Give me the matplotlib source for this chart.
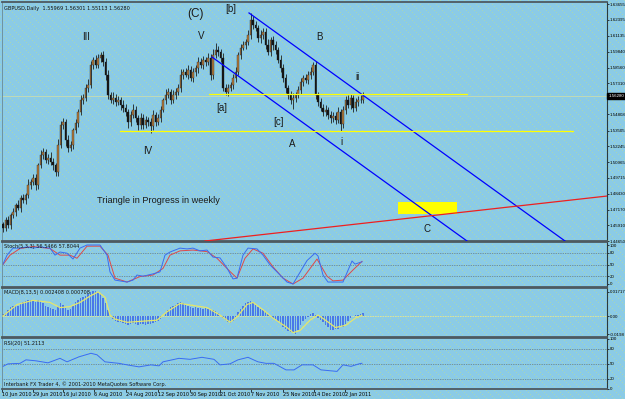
import matplotlib
matplotlib.use('Agg')
import matplotlib.pyplot as plt
from matplotlib.patches import Rectangle
import numpy as np

# ---------------- data ----------------
closes = [
    1.4569, 1.4633, 1.4593, 1.4674, 1.4698, 1.4754, 1.4730, 1.4810, 1.4794, 1.4834,
    1.4914, 1.4939, 1.4971, 1.4914, 1.5075, 1.5155, 1.5179, 1.5115, 1.5131, 1.5099,
    1.5075, 1.5019, 1.5236, 1.5396, 1.5420, 1.5276, 1.5212, 1.5236, 1.5356, 1.5412,
    1.5501, 1.5597, 1.5613, 1.5693, 1.5717, 1.5878, 1.5918, 1.5878, 1.5934, 1.5958,
    1.5902, 1.5798, 1.5637, 1.5597, 1.5613, 1.5581, 1.5597, 1.5557, 1.5533, 1.5501,
    1.5420, 1.5477, 1.5517, 1.5452, 1.5396, 1.5452, 1.5396, 1.5436, 1.5420, 1.5388,
    1.5477, 1.5420, 1.5452, 1.5517, 1.5597, 1.5637, 1.5661, 1.5597, 1.5637, 1.5661,
    1.5693, 1.5798, 1.5822, 1.5798, 1.5838, 1.5774, 1.5822, 1.5854, 1.5902, 1.5878,
    1.5918, 1.5902, 1.5934, 1.5798, 1.5958, 1.5998, 1.5982, 1.5934, 1.5693, 1.5661,
    1.5693, 1.5717, 1.5774, 1.5822, 1.5958, 1.6015, 1.6039, 1.6063, 1.6119, 1.6239,
    1.6199, 1.6175, 1.6095, 1.6119, 1.6143, 1.6039, 1.5982, 1.6079, 1.6039, 1.5998,
    1.5918, 1.5854, 1.5774, 1.5693, 1.5637, 1.5597, 1.5613, 1.5637, 1.5677, 1.5742,
    1.5774, 1.5758, 1.5798, 1.5822, 1.5878, 1.5637, 1.5581, 1.5533, 1.5501, 1.5517,
    1.5477, 1.5452, 1.5469, 1.5436, 1.5501, 1.5404, 1.5517, 1.5597, 1.5557, 1.5613,
    1.5533, 1.5581, 1.5597, 1.5597, 1.5628]
first_open = 1.4600
up_wick_pips = [
    20, 25, 30, 15, 35, 20, 40, 25, 30, 20, 45, 25, 30, 35, 20, 40, 30, 25, 35, 50,
    30, 20, 45, 30, 35, 25, 40, 30, 20, 35, 25, 40, 30, 35, 45, 30, 25, 40, 30, 24,
    35, 30, 40, 25, 50, 30, 35, 25, 40, 30, 20, 35, 45, 30, 25, 40, 30, 35, 25, 30,
    40, 25, 30, 35, 20, 45, 30, 25, 40, 35, 30, 45, 25, 30, 40, 35, 30, 25, 40, 30,
    35, 25, 40, 30, 45, 55, 30, 25, 40, 30, 35, 25, 30, 40, 25, 30, 35, 25, 40, 57,
    30, 35, 25, 40, 30, 35, 45, 25, 30, 35, 25, 40, 30, 35, 25, 30, 40, 25, 30, 35,
    25, 30, 35, 40, 24, 30, 25, 35, 30, 40, 25, 30, 35, 30, 40, 25, 30, 35, 40, 30,
    25, 35, 30, 40, 30]
down_wick_pips = [
    30, 25, 20, 35, 25, 30, 20, 35, 25, 30, 20, 35, 25, 40, 30, 25, 35, 20, 30, 25,
    40, 30, 35, 25, 30, 45, 35, 25, 30, 20, 35, 25, 30, 20, 35, 25, 30, 20, 25, 30,
    35, 40, 30, 25, 35, 30, 25, 40, 30, 35, 45, 30, 25, 35, 40, 30, 35, 25, 30, 56,
    30, 35, 25, 30, 20, 35, 25, 30, 20, 35, 25, 30, 35, 20, 30, 25, 35, 30, 40, 25,
    30, 35, 25, 40, 30, 25, 35, 30, 25, 20, 30, 25, 35, 30, 25, 30, 20, 35, 25, 30,
    35, 25, 30, 40, 35, 30, 25, 35, 40, 30, 25, 35, 30, 40, 30, 35, 72, 30, 25, 35,
    30, 25, 35, 30, 25, 30, 35, 25, 30, 35, 30, 40, 35, 30, 25, 56, 30, 35, 25, 30,
    35, 25, 30, 25, 20]

price_ticks = [1.63655, 1.62395, 1.61135, 1.59840, 1.58560, 1.57310, 1.54808,
               1.53505, 1.52245, 1.50965, 1.49715, 1.48430, 1.47170, 1.45910, 1.44650]
last_price = 1.56280

date_bars = [-0.4, 12, 24, 36.4, 49.2, 62, 74.8, 86.8, 99.2, 112, 124.4, 136.8]
date_labels = ['10 Jun 2010', '29 Jun 2010', '16 Jul 2010', '6 Aug 2010', '24 Aug 2010',
               '12 Sep 2010', '30 Sep 2010', '21 Oct 2010', '7 Nov 2010', '25 Nov 2010',
               '14 Dec 2010', '2 Jan 2011']

# drawn objects (bar index, price)
upper_channel_bars = [98.4, 224.8]
upper_channel_prices = [1.6296, 1.4465]
lower_channel_bars = [83.6, 185.6]
lower_channel_prices = [1.5942, 1.4465]
red_line_bars = [80.8, 241.6]
red_line_prices = [1.4465, 1.4826]
yellow_upper_bars = [82.4, 185.6]
yellow_upper_price = 1.5649
yellow_lower_bars = [46.8, 228.0]
yellow_lower_price = 1.5348
target_box_bars = [158.0, 181.6]
target_box_prices = [1.4682, 1.4778]

wave_labels = ['(C)', '[b]', 'III', 'V', 'B', 'ii', '[a]', '[c]', 'IV', 'A', 'i', 'C']
wave_bars = [77.2, 91.0, 33.2, 79.2, 126.4, 141.6, 87.6, 110.0, 58.0, 115.6, 135.2, 169.6]
wave_prices = [1.6290, 1.6328, 1.6103, 1.6111, 1.6103, 1.5782, 1.5533, 1.5420, 1.5188,
               1.5244, 1.5260, 1.4561]
wave_sizes = [8.5, 7, 7, 7, 7, 7, 7, 7, 7, 7, 7, 7]
note_text = 'Triangle in Progress in weekly'
note_bar, note_price = 62.0, 1.4794

# Stochastic
stoch_k_bars = [0, 1.6, 4, 6.8, 9.6, 12, 14.8, 18.8, 20.8, 22.8, 25.6, 28, 30.8, 33.6, 38.8,
                41.6, 42.8, 44.8, 49.6, 52, 53.6, 56, 60, 62.8, 64.8, 66.8, 70.8, 73.6, 76,
                78.8, 81.6, 84, 86.8, 89.6, 92, 93.6, 96, 98, 101.6, 104, 106.8, 109.6,
                113.6, 116, 118.8, 121.6, 124.8, 126, 128, 130, 136, 139.6, 140.8, 143.6]
stoch_k = [51, 74, 92, 92, 95, 92, 95, 92, 74, 82, 79, 64, 92, 100, 100, 74, 31, 10, 5, 10,
           23, 20, 26, 31, 74, 82, 92, 90, 92, 85, 87, 69, 67, 41, 13, 15, 74, 92, 90, 74,
           49, 31, 5, 0, 30, 60, 79, 72, 23, 5, 5, 59, 51, 57]
stoch_d_bars = [0, 2.8, 6.8, 12, 18.8, 22.8, 26.8, 29.6, 33.6, 38.8, 42, 44.8, 49.6, 54.8,
                60, 64, 66.8, 70.8, 76, 81.6, 85.6, 90.8, 93.6, 96.8, 100, 104, 108, 112,
                116, 120, 125.6, 129.6, 132, 136, 140, 143.6]
stoch_d = [50, 74, 91, 96, 91, 74, 74, 66, 97, 97, 74, 15, 5, 19, 23, 40, 74, 85, 87, 83,
           66, 32, 15, 66, 90, 79, 44, 15, 0, 15, 64, 20, 8, 10, 36, 58]
stoch_levels = [80, 50, 20]

# MACD (values in 1e-3)
macd_hist_e3 = [
    1.1, 2.2, 4.5, 6.7, 7.5, 8.2, 7.5, 9.0, 9.7, 10.4, 11.2, 11.2, 10.4, 9.7, 11.2, 10.4,
    9.0, 7.5, 6.7, 6.0, 5.2, 4.5, 7.5, 9.0, 8.2, 6.0, 4.5, 5.2, 7.5, 9.7, 11.2, 12.7, 13.4,
    14.2, 15.7, 17.2, 17.9, 17.9, 17.2, 15.7, 12.7, 9.0, 4.5, 0.7, -2.2, -3.7, -4.5, -4.5,
    -5.2, -6.0, -6.7, -6.0, -5.2, -6.0, -6.7, -6.0, -6.0, -6.7, -6.0, -6.0, -5.2, -4.5,
    -3.7, -2.2, 0.0, 2.2, 4.5, 6.7, 7.5, 8.2, 9.0, 9.7, 9.0, 8.2, 7.5, 6.7, 6.0, 6.7, 6.0,
    6.0, 5.2, 6.0, 5.2, 4.5, 4.5, 3.7, 2.2, 0.7, -1.5, -3.0, -4.5, -5.2, -3.7, -0.7, 3.0,
    5.2, 7.5, 9.0, 9.7, 10.4, 9.7, 8.2, 6.7, 5.2, 4.5, 3.0, 1.5, 0.0, -1.5, -2.2, -3.7,
    -6.0, -7.5, -9.0, -10.4, -11.2, -11.9, -12.7, -9.7, -6.7, -3.7, -2.2, -0.7, 1.5, 2.2,
    0.7, -1.5, -3.0, -4.5, -6.7, -8.2, -9.7, -9.7, -9.0, -9.0, -8.2, -7.5, -6.0, -3.7,
    -1.5, 0.0, 0.7, 0.7, 1.5, 2.2]
macd_sig_bars = [0, 5.6, 12, 18.8, 22.8, 26.8, 30.8, 34.8, 38, 40.8, 42.8, 44.8, 49.6, 56,
                 61.6, 65.6, 70.8, 76, 81.6, 86.8, 90.8, 93.6, 97.6, 100, 104, 108, 113.6,
                 116, 118.8, 122.8, 126, 129, 133, 137, 141, 143.6]
macd_sig_e3 = [0, 8.2, 11.2, 9.7, 6.0, 6.7, 9.7, 14.2, 17.2, 13.4, 0.7, -2.2, -4.5, -3.7,
               -3.0, 3.0, 9.0, 7.5, 6.0, 0.7, -4.5, -0.7, 8.2, 9.7, 4.5, -1.5, -8.2, -11.9,
               -10.4, -3.0, 0.7, -3.0, -8.2, -6.7, -1.5, 0.5]

# RSI
rsi_bars = [0, 2, 6.8, 9.2, 13.2, 18, 22.8, 25.6, 30.4, 35.2, 37.6, 40.8, 46.4, 49.6, 54.4,
            59.2, 62.4, 64, 70.4, 74.8, 79.6, 84.4, 86.8, 90.8, 94, 98, 102, 105.2, 108.4,
            113.2, 116.4, 119.6, 124, 127.2, 133.6, 136, 139.2, 142.4, 143.6]
rsi_vals = [45, 50, 51, 58, 56, 52, 61, 54, 64, 71, 68, 54, 51, 48, 44, 48, 46, 54, 61, 59,
            63, 59, 48, 50, 58, 63, 54, 51, 51, 38, 38, 48, 48, 38, 35, 48, 45, 50, 51.2]
rsi_levels = [80, 50, 20]

# ---------------- figure ----------------
BG = '#8bcbe6'
fig = plt.figure(figsize=(6.25, 3.99), dpi=100, facecolor=BG)
H, W = 399, 625
yy, xx = np.mgrid[0:H, 0:W]
dots = ((xx + 3 * yy) % 8 == 0) & (yy % 2 == 0)
img = np.zeros((H, W, 4))
img[dots] = [0.74, 0.88, 0.58, 0.6]
fig.figimage(img, 0, 0, zorder=-1)

L, Wd = 2 / 625, 605 / 625
def fr(top, bot):
    return [L, (399 - bot) / 399, Wd, (bot - top) / 399]

ax = fig.add_axes(fr(2, 241))
ax_st = fig.add_axes(fr(242, 287))
ax_md = fig.add_axes(fr(288, 337))
ax_rs = fig.add_axes(fr(338, 389))

TICK_FS = 3.2
LAB_FS = 3.6
TFONT = 'Liberation Sans'
for a in (ax, ax_st, ax_md, ax_rs):
    a.set_facecolor('none')
    a.set_xlim(-0.4, 241.6)
    a.yaxis.tick_right()
    a.tick_params(axis='y', length=1.5, width=0.5, pad=0.6, labelsize=TICK_FS, colors='black')
    a.tick_params(axis='x', bottom=False, labelbottom=False)
    for s in ('top', 'bottom'):
        a.spines[s].set_color('#4d5a60')
        a.spines[s].set_linewidth(1.3)
    a.spines['right'].set_color('#2a3a40')
    a.spines['right'].set_linewidth(0.8)
    a.spines['left'].set_color('#6a8a96')
    a.spines['left'].set_linewidth(0.6)

# ---- main price panel ----
ax.set_ylim(1.4465, 1.6384)
n = len(closes)
opens = [first_open] + closes[:-1]
xs = np.arange(n)
o = np.array(opens); c = np.array(closes)
hi = np.maximum(o, c) + np.array(up_wick_pips) * 1e-4
lo = np.minimum(o, c) - np.array(down_wick_pips) * 1e-4
ax.vlines(xs, lo, hi, color='#111111', lw=0.55, zorder=3)
bull = c >= o
body_h = np.maximum(np.abs(c - o), 0.0003)
ax.bar(xs[bull], body_h[bull], bottom=np.minimum(o, c)[bull], width=0.75,
       color='#b27a3c', edgecolor='#222222', linewidth=0.25, zorder=4)
ax.bar(xs[~bull], body_h[~bull], bottom=np.minimum(o, c)[~bull], width=0.75,
       color='#151515', edgecolor='#151515', linewidth=0.25, zorder=4)

ax.axhline(last_price, color='#c9dcb0', lw=0.6, zorder=1)
ax.plot(upper_channel_bars, upper_channel_prices, color='#0000ff', lw=0.9, zorder=5)
ax.plot(lower_channel_bars, lower_channel_prices, color='#0000ff', lw=0.9, zorder=5)
ax.plot(red_line_bars, red_line_prices, color='#ee2020', lw=0.9, zorder=5)
ax.plot(yellow_upper_bars, [yellow_upper_price] * 2, color='#ffff00', lw=0.9, zorder=5)
ax.plot(yellow_lower_bars, [yellow_lower_price] * 2, color='#ffff00', lw=0.9, zorder=5)
ax.add_patch(Rectangle((target_box_bars[0], target_box_prices[0]),
                       target_box_bars[1] - target_box_bars[0],
                       target_box_prices[1] - target_box_prices[0],
                       facecolor='#ffff00', edgecolor='none', zorder=4))

for lab, b, p, s in zip(wave_labels, wave_bars, wave_prices, wave_sizes):
    ax.text(b, p, lab, fontsize=s, ha='center', va='center', color='#1a1a1a',
            family='Liberation Sans', zorder=6)
ax.text(note_bar, note_price, note_text, fontsize=6.6, ha='center', va='center',
        color='#1a1a1a', family='Liberation Sans', zorder=6)

ax.set_yticks(price_ticks)
ax.set_yticklabels([f'{v:.5f}' for v in price_ticks], family=TFONT)
ax.text(1.002, last_price, f'{last_price:.5f}', transform=ax.get_yaxis_transform(),
        fontsize=TICK_FS, family=TFONT, color='white', va='center', ha='left',
        bbox=dict(facecolor='black', edgecolor='black', pad=0.5), zorder=7, clip_on=False)
ax.text(0.004, 0.985, 'GBPUSD,Daily  1.55969 1.56301 1.55113 1.56280', transform=ax.transAxes,
        fontsize=LAB_FS, va='top', ha='left', color='#111111')

# ---- stochastic ----
ax_st.set_ylim(-7.7, 107.7)
for lv in stoch_levels:
    ax_st.axhline(lv, color='#505a60', lw=0.5, ls=(0, (1, 1.5)))
ax_st.plot(stoch_d_bars, stoch_d, color='#e04848', lw=0.7)
ax_st.plot(stoch_k_bars, stoch_k, color='#3a6cf0', lw=0.7)
ax_st.set_yticks([100, 80, 50, 20, 0])
ax_st.set_yticklabels(['100', '80', '50', '20', '0'], family=TFONT)
ax_st.text(0.004, 0.95, 'Stoch(5,3,3) 56.5466 57.8044', transform=ax_st.transAxes,
           fontsize=LAB_FS, va='top', ha='left', color='#111111')

# ---- MACD ----
ax_md.set_ylim(-0.0150, 0.0200)
ax_md.axhline(0, color='#e8e890', lw=0.6, ls=(0, (2, 1)))
mh = np.array(macd_hist_e3) * 1e-3
ax_md.bar(np.arange(len(mh)), mh, width=0.45, color='#4a78e8', zorder=2)
ax_md.plot(macd_sig_bars, np.array(macd_sig_e3) * 1e-3, color='#e6e66a', lw=0.9, zorder=3)
ax_md.set_yticks([0.01717, 0.0, -0.0132])
ax_md.set_yticklabels(['0.01717', '0.00', '-0.0198'], family=TFONT)
ax_md.text(0.004, 0.95, 'MACD(8,13,5) 0.002408 0.000708', transform=ax_md.transAxes,
           fontsize=LAB_FS, va='top', ha='left', color='#111111')

# ---- RSI ----
ax_rs.set_ylim(0, 101.4)
for lv in rsi_levels:
    ax_rs.axhline(lv, color='#505a60', lw=0.5, ls=(0, (1, 1.5)))
ax_rs.plot(rsi_bars, rsi_vals, color='#3a6cf0', lw=0.7)
ax_rs.set_yticks([100, 80, 50, 20, 0])
ax_rs.set_yticklabels(['100', '80', '50', '20', '0'], family=TFONT)
ax_rs.text(0.004, 0.95, 'RSI(20) 51.2113', transform=ax_rs.transAxes,
           fontsize=LAB_FS, va='top', ha='left', color='#111111')
ax_rs.text(0.004, 0.03, 'Interbank FX Trader 4, \u00a9 2001-2010 MetaQuotes Software Corp.',
           transform=ax_rs.transAxes, fontsize=LAB_FS, va='bottom', ha='left', color='#111111')
ax_rs.tick_params(axis='x', bottom=True, labelbottom=True, length=2, width=0.5, pad=0.5,
                  labelsize=3.5, colors='black')
ax_rs.set_xticks(date_bars)
ax_rs.set_xticklabels(date_labels, ha='left')

fig.savefig('out.png', dpi=100, facecolor=fig.get_facecolor())
